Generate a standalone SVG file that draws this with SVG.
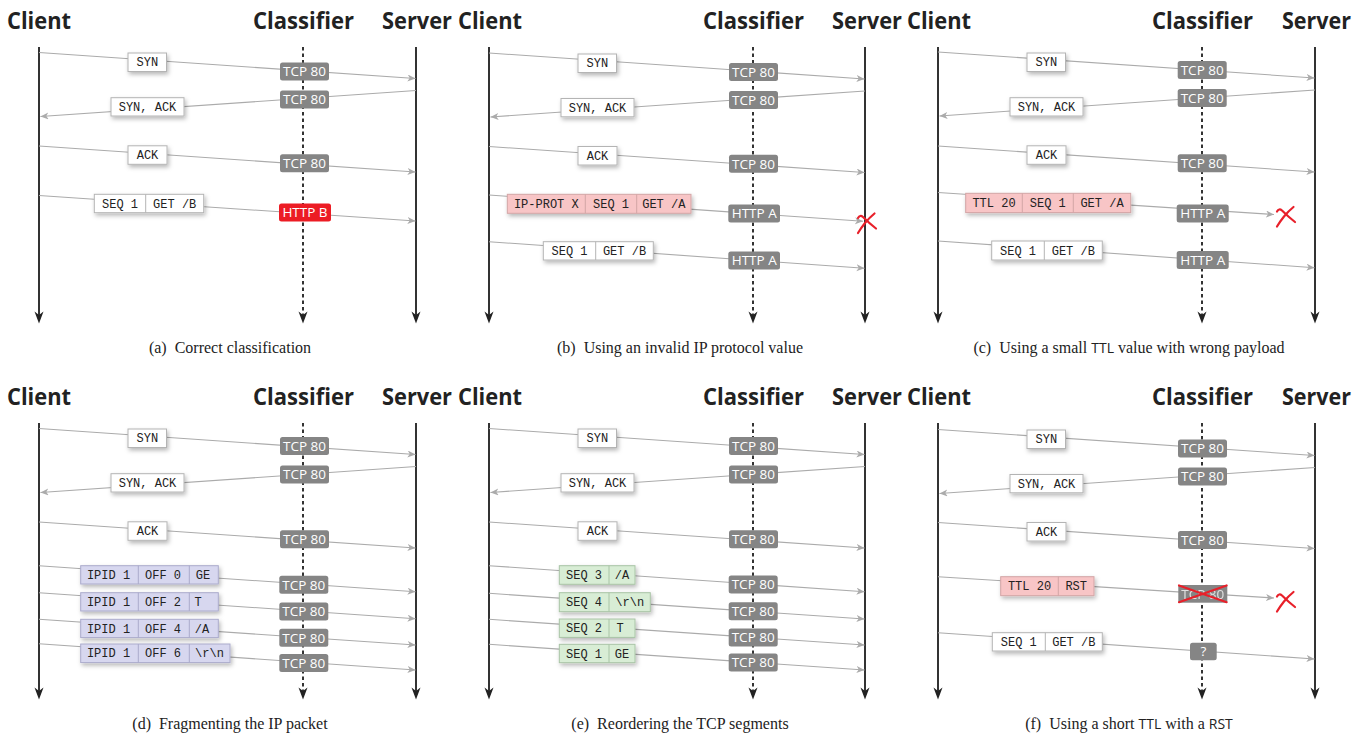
<svg xmlns="http://www.w3.org/2000/svg" xmlns:xlink="http://www.w3.org/1999/xlink" width="1366" height="736" viewBox="0 0 1366 736">
  <style>
    .hdr { font-family: "Open Sans", "DejaVu Sans", sans-serif; font-weight: 700; font-size: 24px; fill: #222; }
    .cap { font-family: "Liberation Serif", serif; font-size: 16px; fill: #222; text-anchor: middle; }
    .cap .sf { font-family: "Open Sans", sans-serif; font-size: 14px; }
    .life { stroke: #333; stroke-width: 2; fill: none; }
    .dash { stroke: #333; stroke-width: 2; stroke-dasharray: 3.5 3; fill: none; }
    .msg { stroke: #ababab; stroke-width: 1.1; fill: none; marker-end: url(#ah); }
    .box { fill: #fff; stroke: #b4b4b4; stroke-width: 1; filter: url(#sh); }
    .box.pink { fill: #f8c5c6; stroke: #d3a5a6; }
    .box.lav { fill: #d7d7ef; stroke: #ababcb; }
    .box.grn { fill: #d8edd5; stroke: #a9c4a6; }
    .div { stroke: #b4b4b4; stroke-width: 1; }
    .pink-d { stroke: #d3a5a6; stroke-width: 1; }
    .lav-d { stroke: #ababcb; stroke-width: 1; }
    .grn-d { stroke: #a9c4a6; stroke-width: 1; }
    .mono { font-family: "Liberation Mono", "DejaVu Sans Mono", monospace; font-size: 12px; fill: #222; text-anchor: middle; }
    .tag rect { fill: #858585; }
    .tag text { font-family: "Open Sans", "DejaVu Sans", sans-serif; font-size: 13.5px; fill: #fff; text-anchor: middle; }
    .tag.hot rect { fill: #ec1c24; }
    .red { stroke: #e8202a; stroke-width: 2.2; fill: none; stroke-linecap: round; stroke-linejoin: round; }
  </style>
  <defs>
    <filter id="sh" x="-20%" y="-40%" width="150%" height="200%">
      <feDropShadow dx="1.5" dy="2.5" stdDeviation="2" flood-color="#000" flood-opacity="0.28"/>
    </filter>
    <marker id="ah" markerWidth="10" markerHeight="8" refX="8" refY="3.5" orient="auto" markerUnits="userSpaceOnUse">
      <path d="M0,0 L8,3.5 L0,7 L2.2,3.5 Z" fill="#ababab"/>
    </marker>
    <path id="tip" d="M0,0 L-4.5,-12 L0,-8.5 L4.5,-12 Z" fill="#222"/>
    <!-- hand-drawn cross marking a dropped packet -->
    <g id="xmark" class="red">
      <path d="M2,5 Q4,1.5 7,4 Q13,10 20,15.5"/>
      <path d="M18.5,0.5 Q13,5 9,10 Q5,15 2,20"/>
    </g>
  </defs>

  <rect width="1366" height="736" fill="#fff"/>

  <!-- (a) Correct classification -->
  <g id="panel-a">
    <g id="a-client"><text class="hdr" x="7" y="29" textLength="64" lengthAdjust="spacingAndGlyphs">Client</text><line class="life" x1="39" y1="47" x2="39" y2="316"/><use href="#tip" x="39" y="323.5"/></g>
    <g id="a-classifier"><text class="hdr" x="253" y="29" textLength="101" lengthAdjust="spacingAndGlyphs">Classifier</text><line class="dash" x1="303" y1="47" x2="303" y2="316"/><use href="#tip" x="303" y="323.5"/></g>
    <g id="a-server"><text class="hdr" x="382" y="29" textLength="70" lengthAdjust="spacingAndGlyphs">Server</text><line class="life" x1="416" y1="47" x2="416" y2="316"/><use href="#tip" x="416" y="323.5"/></g>
    <g id="a-connectors">
      <path class="msg" d="M39,52.5 L415.5,78.5"/>
      <path class="msg" d="M416,90.5 L40.5,116.5"/>
      <path class="msg" d="M39,146 L415.5,172"/>
      <path class="msg" d="M39,195.5 L415.5,221"/>
    </g>
    <g id="a-syn"><rect class="box" x="128" y="53" width="38.5" height="18.5"/><text class="mono" x="147.3" y="66.3">SYN</text></g>
    <g id="a-t1" class="tag"><rect x="280" y="62.5" width="49" height="18" rx="2.5"/><text x="304.5" y="76.2">TCP 80</text></g>
    <g id="a-synack"><rect class="box" x="111" y="97.7" width="73" height="18.3"/><text class="mono" x="147.5" y="111">SYN, ACK</text></g>
    <g id="a-t2" class="tag"><rect x="280" y="90.5" width="49" height="18" rx="2.5"/><text x="304.5" y="104.2">TCP 80</text></g>
    <g id="a-ack"><rect class="box" x="128" y="145.8" width="39" height="18.5"/><text class="mono" x="147.5" y="159.2">ACK</text></g>
    <g id="a-t3" class="tag"><rect x="280" y="154.3" width="49" height="18" rx="2.5"/><text x="304.5" y="168">TCP 80</text></g>
    <g id="a-get"><rect class="box" x="94.3" y="194.3" width="109.4" height="18.4"/><line class="div" x1="145.7" y1="194.3" x2="145.7" y2="212.7"/><text class="mono" x="120" y="207.6">SEQ 1</text><text class="mono" x="174.7" y="207.6">GET /B</text></g>
    <g id="a-t4" class="tag hot"><rect x="279" y="203.5" width="52" height="18" rx="2.5"/><text x="305" y="217.2">HTTP B</text></g>
    <text class="cap" x="230" y="353">(a)<tspan dx="8">Correct classification</tspan></text>
  </g>

  <!-- (b) Using an invalid IP protocol value -->
  <g id="panel-b" transform="translate(450,0)">
    <g id="b-client"><text class="hdr" x="8" y="29" textLength="64" lengthAdjust="spacingAndGlyphs">Client</text><line class="life" x1="39" y1="47" x2="39" y2="316"/><use href="#tip" x="39" y="323.5"/></g>
    <g id="b-classifier"><text class="hdr" x="253" y="29" textLength="101" lengthAdjust="spacingAndGlyphs">Classifier</text><line class="dash" x1="303" y1="47" x2="303" y2="316"/><use href="#tip" x="303" y="323.5"/></g>
    <g id="b-server"><text class="hdr" x="382" y="29" textLength="70" lengthAdjust="spacingAndGlyphs">Server</text><line class="life" x1="415" y1="47" x2="415" y2="316"/><use href="#tip" x="415" y="323.5"/></g>
    <g id="b-connectors">
      <path class="msg" d="M39,53 L414.5,79"/>
      <path class="msg" d="M415,91 L40.5,117"/>
      <path class="msg" d="M39,146.5 L414.5,172.5"/>
      <path class="msg" d="M39,195 L413,221.3"/>
      <path class="msg" d="M39,241.7 L414.5,268.3"/>
    </g>
    <g id="b-syn"><rect class="box" x="128" y="54" width="38.5" height="18.5"/><text class="mono" x="147.3" y="67.3">SYN</text></g>
    <g id="b-t1" class="tag"><rect x="279" y="63" width="49" height="18" rx="2.5"/><text x="303.5" y="76.7">TCP 80</text></g>
    <g id="b-synack"><rect class="box" x="111" y="98.5" width="73" height="18.3"/><text class="mono" x="147.5" y="111.8">SYN, ACK</text></g>
    <g id="b-t2" class="tag"><rect x="279" y="91" width="49" height="18" rx="2.5"/><text x="303.5" y="104.7">TCP 80</text></g>
    <g id="b-ack"><rect class="box" x="128" y="146.5" width="39" height="18.5"/><text class="mono" x="147.5" y="159.9">ACK</text></g>
    <g id="b-t3" class="tag"><rect x="279" y="154.8" width="49" height="18" rx="2.5"/><text x="303.5" y="168.5">TCP 80</text></g>
    <g id="b-bad"><rect class="box pink" x="57.3" y="194.3" width="183.7" height="19"/><line class="pink-d" x1="135.3" y1="194.3" x2="135.3" y2="213.3"/><line class="pink-d" x1="186.7" y1="194.3" x2="186.7" y2="213.3"/><text class="mono" x="96.3" y="208">IP-PROT X</text><text class="mono" x="161" y="208">SEQ 1</text><text class="mono" x="213.8" y="208">GET /A</text></g>
    <g id="b-t4" class="tag"><rect x="278.3" y="204.5" width="51.7" height="18" rx="2.5"/><text x="304.2" y="218.2">HTTP A</text></g>
    <use id="b-drop" href="#xmark" x="406" y="213"/>
    <g id="b-get"><rect class="box" x="93.3" y="241.7" width="110" height="18.3"/><line class="div" x1="145.7" y1="241.7" x2="145.7" y2="260"/><text class="mono" x="119.5" y="255">SEQ 1</text><text class="mono" x="174.5" y="255">GET /B</text></g>
    <g id="b-t5" class="tag"><rect x="278.3" y="251.5" width="51.7" height="18" rx="2.5"/><text x="304.2" y="265.2">HTTP A</text></g>
    <text class="cap" x="230" y="353">(b)<tspan dx="8">Using an invalid IP protocol value</tspan></text>
  </g>

  <!-- (c) Using a small TTL value with wrong payload -->
  <g id="panel-c" transform="translate(899,0)">
    <g id="c-client"><text class="hdr" x="8" y="29" textLength="64" lengthAdjust="spacingAndGlyphs">Client</text><line class="life" x1="39" y1="47" x2="39" y2="316"/><use href="#tip" x="39" y="323.5"/></g>
    <g id="c-classifier"><text class="hdr" x="253" y="29" textLength="101" lengthAdjust="spacingAndGlyphs">Classifier</text><line class="dash" x1="303" y1="47" x2="303" y2="316"/><use href="#tip" x="303" y="323.5"/></g>
    <g id="c-server"><text class="hdr" x="383" y="29" textLength="69" lengthAdjust="spacingAndGlyphs">Server</text><line class="life" x1="416" y1="47" x2="416" y2="316"/><use href="#tip" x="416" y="323.5"/></g>
    <g id="c-connectors">
      <path class="msg" d="M39,52 L415.5,78"/>
      <path class="msg" d="M416,90 L40.5,116"/>
      <path class="msg" d="M39,146 L415.5,172"/>
      <path class="msg" d="M39,192.5 L375,214.5"/>
      <path class="msg" d="M39,241 L415.5,267.7"/>
    </g>
    <g id="c-syn"><rect class="box" x="128" y="53" width="38.5" height="18.5"/><text class="mono" x="147.3" y="66.3">SYN</text></g>
    <g id="c-t1" class="tag"><rect x="278.7" y="61" width="49" height="18" rx="2.5"/><text x="303.2" y="74.7">TCP 80</text></g>
    <g id="c-synack"><rect class="box" x="111" y="97.7" width="73" height="18.3"/><text class="mono" x="147.5" y="111">SYN, ACK</text></g>
    <g id="c-t2" class="tag"><rect x="278.7" y="89" width="49" height="18" rx="2.5"/><text x="303.2" y="102.7">TCP 80</text></g>
    <g id="c-ack"><rect class="box" x="128" y="145.8" width="39" height="18.5"/><text class="mono" x="147.5" y="159.2">ACK</text></g>
    <g id="c-t3" class="tag"><rect x="278.7" y="154.3" width="49" height="18" rx="2.5"/><text x="303.2" y="168">TCP 80</text></g>
    <g id="c-bad"><rect class="box pink" x="66.7" y="193.3" width="165" height="19.3"/><line class="pink-d" x1="123.3" y1="193.3" x2="123.3" y2="212.6"/><line class="pink-d" x1="174.3" y1="193.3" x2="174.3" y2="212.6"/><text class="mono" x="95" y="207.2">TTL 20</text><text class="mono" x="148.8" y="207.2">SEQ 1</text><text class="mono" x="203" y="207.2">GET /A</text></g>
    <g id="c-t4" class="tag"><rect x="277.7" y="204.5" width="52" height="18" rx="2.5"/><text x="303.7" y="218.2">HTTP A</text></g>
    <use id="c-drop" href="#xmark" x="376" y="206.5"/>
    <g id="c-get"><rect class="box" x="92.7" y="241" width="110.6" height="19"/><line class="div" x1="145.3" y1="241" x2="145.3" y2="260"/><text class="mono" x="119" y="254.8">SEQ 1</text><text class="mono" x="174.3" y="254.8">GET /B</text></g>
    <g id="c-t5" class="tag"><rect x="277.7" y="251" width="52" height="18" rx="2.5"/><text x="303.7" y="264.7">HTTP A</text></g>
    <text class="cap" x="230" y="353">(c)<tspan dx="8">Using a small </tspan><tspan class="sf">TTL</tspan><tspan> value with wrong payload</tspan></text>
  </g>

  <!-- (d) Fragmenting the IP packet -->
  <g id="panel-d" transform="translate(0,376)">
    <g id="d-client"><text class="hdr" x="7" y="29" textLength="64" lengthAdjust="spacingAndGlyphs">Client</text><line class="life" x1="39" y1="47" x2="39" y2="316"/><use href="#tip" x="39" y="323.5"/></g>
    <g id="d-classifier"><text class="hdr" x="253" y="29" textLength="101" lengthAdjust="spacingAndGlyphs">Classifier</text><line class="dash" x1="303" y1="47" x2="303" y2="316"/><use href="#tip" x="303" y="323.5"/></g>
    <g id="d-server"><text class="hdr" x="382" y="29" textLength="70" lengthAdjust="spacingAndGlyphs">Server</text><line class="life" x1="416" y1="47" x2="416" y2="316"/><use href="#tip" x="416" y="323.5"/></g>
    <g id="d-connectors">
      <path class="msg" d="M39,52.5 L415.5,78.5"/>
      <path class="msg" d="M416,90.5 L40.5,116.5"/>
      <path class="msg" d="M39,146 L415.5,172"/>
      <path class="msg" d="M39,189.7 L415.5,215.7"/>
      <path class="msg" d="M39,216.7 L415.5,242.7"/>
      <path class="msg" d="M39,243.3 L415.5,269"/>
      <path class="msg" d="M39,267.7 L415.5,294"/>
    </g>
    <g id="d-syn"><rect class="box" x="128" y="53" width="38.5" height="18.5"/><text class="mono" x="147.3" y="66.3">SYN</text></g>
    <g id="d-t1" class="tag"><rect x="280" y="61" width="49" height="18" rx="2.5"/><text x="304.5" y="74.7">TCP 80</text></g>
    <g id="d-synack"><rect class="box" x="111" y="97.7" width="73" height="18.3"/><text class="mono" x="147.5" y="111">SYN, ACK</text></g>
    <g id="d-t2" class="tag"><rect x="280" y="89.5" width="49" height="18" rx="2.5"/><text x="304.5" y="103.2">TCP 80</text></g>
    <g id="d-ack"><rect class="box" x="128" y="145.8" width="39" height="18.5"/><text class="mono" x="147.5" y="159.2">ACK</text></g>
    <g id="d-t3" class="tag"><rect x="280" y="154.3" width="49" height="18" rx="2.5"/><text x="304.5" y="168">TCP 80</text></g>
    <g id="d-f1"><rect class="box lav" x="80.7" y="189.7" width="137.6" height="18.3"/><line class="lav-d" x1="138.3" y1="189.7" x2="138.3" y2="208"/><line class="lav-d" x1="189.3" y1="189.7" x2="189.3" y2="208"/><text class="mono" x="108.5" y="203">IPID 1</text><text class="mono" x="163" y="203">OFF 0</text><text class="mono" x="203" y="203">GE</text></g>
    <g id="d-t4" class="tag"><rect x="279.3" y="199.8" width="49" height="18" rx="2.5"/><text x="303.8" y="213.5">TCP 80</text></g>
    <g id="d-f2"><rect class="box lav" x="80.7" y="216.7" width="137.6" height="18.3"/><line class="lav-d" x1="138.3" y1="216.7" x2="138.3" y2="235"/><line class="lav-d" x1="189.3" y1="216.7" x2="189.3" y2="235"/><text class="mono" x="108.5" y="230">IPID 1</text><text class="mono" x="163" y="230">OFF 2</text><text class="mono" x="198" y="230">T</text></g>
    <g id="d-t5" class="tag"><rect x="279.3" y="226.5" width="49" height="18" rx="2.5"/><text x="303.8" y="240.2">TCP 80</text></g>
    <g id="d-f3"><rect class="box lav" x="80.7" y="243.3" width="137.6" height="18.3"/><line class="lav-d" x1="138.3" y1="243.3" x2="138.3" y2="261.6"/><line class="lav-d" x1="189.3" y1="243.3" x2="189.3" y2="261.6"/><text class="mono" x="108.5" y="256.6">IPID 1</text><text class="mono" x="163" y="256.6">OFF 4</text><text class="mono" x="202" y="256.6">/A</text></g>
    <g id="d-t6" class="tag"><rect x="279.3" y="252.8" width="49" height="18" rx="2.5"/><text x="303.8" y="266.5">TCP 80</text></g>
    <g id="d-f4"><rect class="box lav" x="80.7" y="268" width="149.3" height="18.6"/><line class="lav-d" x1="138.3" y1="268" x2="138.3" y2="286.6"/><line class="lav-d" x1="189.3" y1="268" x2="189.3" y2="286.6"/><text class="mono" x="108.5" y="281.4">IPID 1</text><text class="mono" x="163" y="281.4">OFF 6</text><text class="mono" x="209.5" y="281.4">\r\n</text></g>
    <g id="d-t7" class="tag"><rect x="279.3" y="278" width="49" height="18" rx="2.5"/><text x="303.8" y="291.7">TCP 80</text></g>
    <text class="cap" x="230" y="352.5">(d)<tspan dx="8">Fragmenting the IP packet</tspan></text>
  </g>

  <!-- (e) Reordering the TCP segments -->
  <g id="panel-e" transform="translate(450,376)">
    <g id="e-client"><text class="hdr" x="8" y="29" textLength="64" lengthAdjust="spacingAndGlyphs">Client</text><line class="life" x1="39" y1="47" x2="39" y2="316"/><use href="#tip" x="39" y="323.5"/></g>
    <g id="e-classifier"><text class="hdr" x="253" y="29" textLength="101" lengthAdjust="spacingAndGlyphs">Classifier</text><line class="dash" x1="303" y1="47" x2="303" y2="316"/><use href="#tip" x="303" y="323.5"/></g>
    <g id="e-server"><text class="hdr" x="382" y="29" textLength="70" lengthAdjust="spacingAndGlyphs">Server</text><line class="life" x1="415" y1="47" x2="415" y2="316"/><use href="#tip" x="415" y="323.5"/></g>
    <g id="e-connectors">
      <path class="msg" d="M39,52.5 L414.5,78.5"/>
      <path class="msg" d="M415,90.5 L40.5,116.5"/>
      <path class="msg" d="M39,146 L414.5,172"/>
      <path class="msg" d="M39,189.7 L414.5,215.7"/>
      <path class="msg" d="M39,217.3 L414.5,243"/>
      <path class="msg" d="M39,243.3 L414.5,269"/>
      <path class="msg" d="M39,268.3 L414.5,294"/>
    </g>
    <g id="e-syn"><rect class="box" x="128" y="53" width="38.5" height="18.5"/><text class="mono" x="147.3" y="66.3">SYN</text></g>
    <g id="e-t1" class="tag"><rect x="279" y="61" width="49" height="18" rx="2.5"/><text x="303.5" y="74.7">TCP 80</text></g>
    <g id="e-synack"><rect class="box" x="111" y="97.7" width="73" height="18.3"/><text class="mono" x="147.5" y="111">SYN, ACK</text></g>
    <g id="e-t2" class="tag"><rect x="279" y="89.5" width="49" height="18" rx="2.5"/><text x="303.5" y="103.2">TCP 80</text></g>
    <g id="e-ack"><rect class="box" x="128" y="145.8" width="39" height="18.5"/><text class="mono" x="147.5" y="159.2">ACK</text></g>
    <g id="e-t3" class="tag"><rect x="279" y="154.3" width="49" height="18" rx="2.5"/><text x="303.5" y="168">TCP 80</text></g>
    <g id="e-s3"><rect class="box grn" x="109.3" y="189.7" width="75.7" height="18.6"/><line class="grn-d" x1="159" y1="189.7" x2="159" y2="208.3"/><text class="mono" x="134" y="203.1">SEQ 3</text><text class="mono" x="172" y="203.1">/A</text></g>
    <g id="e-t4" class="tag"><rect x="278.7" y="199.5" width="49" height="18" rx="2.5"/><text x="303.2" y="213.2">TCP 80</text></g>
    <g id="e-s4"><rect class="box grn" x="109.3" y="216.7" width="91" height="19"/><line class="grn-d" x1="159" y1="216.7" x2="159" y2="235.7"/><text class="mono" x="134" y="230.3">SEQ 4</text><text class="mono" x="179.7" y="230.3">\r\n</text></g>
    <g id="e-t5" class="tag"><rect x="278.7" y="226.2" width="49" height="18" rx="2.5"/><text x="303.2" y="239.9">TCP 80</text></g>
    <g id="e-s2"><rect class="box grn" x="109.3" y="243" width="75.7" height="18.4"/><line class="grn-d" x1="159" y1="243" x2="159" y2="261.4"/><text class="mono" x="134" y="256.4">SEQ 2</text><text class="mono" x="170" y="256.4">T</text></g>
    <g id="e-t6" class="tag"><rect x="278.7" y="252.5" width="49" height="18" rx="2.5"/><text x="303.2" y="266.2">TCP 80</text></g>
    <g id="e-s1"><rect class="box grn" x="109.3" y="268.3" width="75.7" height="18.4"/><line class="grn-d" x1="159" y1="268.3" x2="159" y2="286.7"/><text class="mono" x="134" y="281.7">SEQ 1</text><text class="mono" x="172" y="281.7">GE</text></g>
    <g id="e-t7" class="tag"><rect x="278.7" y="277.5" width="49" height="18" rx="2.5"/><text x="303.2" y="291.2">TCP 80</text></g>
    <text class="cap" x="230" y="352.5">(e)<tspan dx="8">Reordering the TCP segments</tspan></text>
  </g>

  <!-- (f) Using a short TTL with a RST -->
  <g id="panel-f" transform="translate(899,376)">
    <g id="f-client"><text class="hdr" x="8" y="29" textLength="64" lengthAdjust="spacingAndGlyphs">Client</text><line class="life" x1="39" y1="47" x2="39" y2="316"/><use href="#tip" x="39" y="323.5"/></g>
    <g id="f-classifier"><text class="hdr" x="253" y="29" textLength="101" lengthAdjust="spacingAndGlyphs">Classifier</text><line class="dash" x1="303" y1="47" x2="303" y2="316"/><use href="#tip" x="303" y="323.5"/></g>
    <g id="f-server"><text class="hdr" x="383" y="29" textLength="69" lengthAdjust="spacingAndGlyphs">Server</text><line class="life" x1="416" y1="47" x2="416" y2="316"/><use href="#tip" x="416" y="323.5"/></g>
    <g id="f-connectors">
      <path class="msg" d="M39,53.5 L415.5,79.5"/>
      <path class="msg" d="M416,91.5 L40.5,117.5"/>
      <path class="msg" d="M39,146.5 L415.5,172.5"/>
      <path class="msg" d="M39,200.7 L375,222"/>
      <path class="msg" d="M39,256.7 L415.5,283"/>
    </g>
    <g id="f-syn"><rect class="box" x="128" y="54" width="38.5" height="18.5"/><text class="mono" x="147.3" y="67.3">SYN</text></g>
    <g id="f-t1" class="tag"><rect x="279" y="63.5" width="49" height="18" rx="2.5"/><text x="303.5" y="77.2">TCP 80</text></g>
    <g id="f-synack"><rect class="box" x="111" y="98.5" width="73" height="18.3"/><text class="mono" x="147.5" y="111.8">SYN, ACK</text></g>
    <g id="f-t2" class="tag"><rect x="279" y="91.5" width="49" height="18" rx="2.5"/><text x="303.5" y="105.2">TCP 80</text></g>
    <g id="f-ack"><rect class="box" x="128" y="146.5" width="39" height="18.5"/><text class="mono" x="147.5" y="159.9">ACK</text></g>
    <g id="f-t3" class="tag"><rect x="279" y="155" width="49" height="18" rx="2.5"/><text x="303.5" y="168.7">TCP 80</text></g>
    <g id="f-rst"><rect class="box pink" x="101.7" y="200.7" width="93.3" height="19"/><line class="pink-d" x1="159.3" y1="200.7" x2="159.3" y2="219.7"/><text class="mono" x="130.5" y="214.4">TTL 20</text><text class="mono" x="177.2" y="214.4">RST</text></g>
    <g id="f-t4" class="tag"><rect x="279.3" y="209" width="49" height="17.7"/><text x="303.8" y="222.5" opacity="0.75">TCP 80</text><path class="red" d="M280,209.5 L327.6,226.2 M280,226.2 L327.6,209.5"/></g>
    <use id="f-drop" href="#xmark" x="376" y="215.5"/>
    <g id="f-get"><rect class="box" x="93.3" y="256.7" width="110" height="18.3"/><line class="div" x1="146.3" y1="256.7" x2="146.3" y2="275"/><text class="mono" x="119.8" y="270">SEQ 1</text><text class="mono" x="174.8" y="270">GET /B</text></g>
    <g id="f-t5" class="tag"><rect x="291" y="266.7" width="26.7" height="17.6" rx="2.5"/><text x="304.3" y="280.2">?</text></g>
    <text class="cap" x="230" y="352.5">(f)<tspan dx="8">Using a short </tspan><tspan class="sf">TTL</tspan><tspan> with a </tspan><tspan class="sf">RST</tspan></text>
  </g>
</svg>
